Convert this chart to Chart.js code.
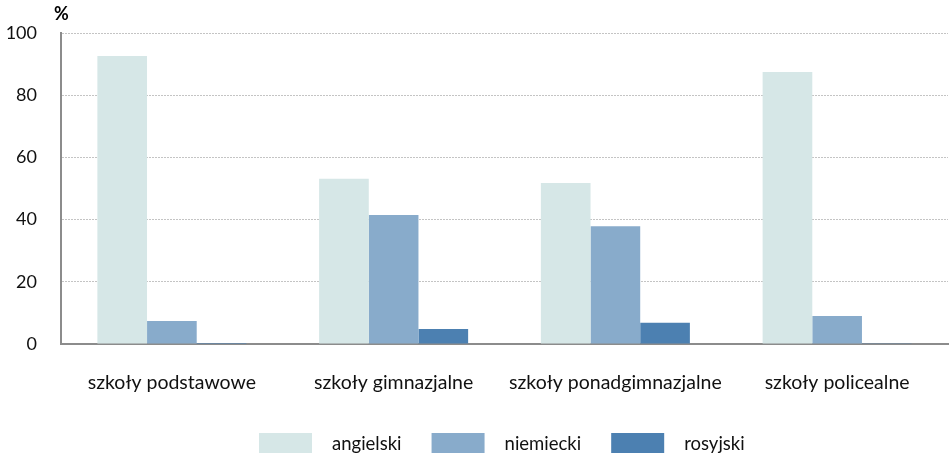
<!DOCTYPE html>
<html>
<head>
<meta charset="utf-8">
<script src="https://cdn.jsdelivr.net/npm/chart.js@4"></script>
<style>
  html, body { margin: 0; padding: 0; background: #fff; }
  #wrap { width: 951px; height: 459px; position: relative; }
</style>
</head>
<body>
<div id="wrap"><canvas id="chart"></canvas></div>
<script>
// Share of pupils learning each foreign language, by school type (%)
const categories = ['szkoły podstawowe', 'szkoły gimnazjalne', 'szkoły ponadgimnazjalne', 'szkoły policealne'];
const seriesNames = ['angielski', 'niemiecki', 'rosyjski'];
const angielski = [92.6, 53.1, 51.8, 87.5];
const niemiecki = [7.4, 41.5, 37.9, 9.0];
const rosyjski = [0.3, 4.8, 6.8, 0.1];
const yTicks = [0, 20, 40, 60, 80, 100];
const colors = ['#d6e7e7', '#88abcb', '#4c80b1'];

const FONT = 'Lato, "Open Sans", sans-serif';

// Unit label above the value axis
const unitLabel = {
  id: 'unitLabel',
  afterDraw(chart) {
    const { ctx } = chart;
    const y = chart.scales.y;
    ctx.save();
    ctx.font = 'bold 18px ' + FONT;
    ctx.fillStyle = '#000';
    ctx.textAlign = 'center';
    ctx.textBaseline = 'middle';
    ctx.fillText('%', y.right + 0.5, 14);
    ctx.restore();
  }
};

// Legend row under the category labels: swatch, gap, name, wider gap to next item
const legendRow = {
  id: 'legendRow',
  afterDraw(chart) {
    const { ctx } = chart;
    const boxW = 53, boxH = 20, textGap = 20, itemGap = 30;
    const cy = 443;
    ctx.save();
    ctx.font = '18.5px ' + FONT;
    const items = chart.data.datasets.map(ds => ({
      text: ds.label, color: ds.backgroundColor, w: ctx.measureText(ds.label).width
    }));
    const total = items.reduce((s, it) => s + boxW + textGap + it.w, 0) + itemGap * (items.length - 1);
    let x = Math.round((chart.width - total) / 2) + 26;
    ctx.textBaseline = 'middle';
    ctx.textAlign = 'left';
    items.forEach(it => {
      ctx.fillStyle = it.color;
      ctx.fillRect(x, cy - boxH / 2, boxW, boxH);
      x += boxW + textGap;
      ctx.fillStyle = '#111';
      ctx.fillText(it.text, x, cy + 1);
      x += it.w + itemGap;
    });
    ctx.restore();
  }
};

new Chart(document.getElementById('chart'), {
  type: 'bar',
  data: {
    labels: categories,
    datasets: [angielski, niemiecki, rosyjski].map((d, i) => ({
      label: seriesNames[i],
      data: d,
      backgroundColor: colors[i],
      borderWidth: 0,
      barPercentage: 1,
      categoryPercentage: 0.672
    }))
  },
  options: {
    responsive: true,
    maintainAspectRatio: false,
    animation: false,
    layout: { padding: { top: 33, right: 3, left: 0, bottom: 59 } },
    plugins: {
      tooltip: { enabled: false },
      legend: { display: false }
    },
    scales: {
      x: {
        grid: { display: false, drawTicks: false },
        border: { display: true, color: '#8c8c8c', width: 2 },
        ticks: { color: '#111', padding: 27, font: { family: FONT, size: 19.5 } },
        afterFit(scale) { scale.height = 56; }
      },
      y: {
        min: 0,
        max: 100,
        afterBuildTicks(scale) { scale.ticks = yTicks.map(v => ({ value: v })); },
        grid: {
          drawTicks: false,
          color: ctx => ctx.tick && ctx.tick.value === 0 ? 'rgba(0,0,0,0)' : '#c4c4c4',
          lineWidth: 1
        },
        border: { display: true, color: '#8c8c8c', width: 2, dash: [2, 1] },
        ticks: { color: '#111', padding: 24, font: { family: FONT, size: 18 } },
        afterFit(scale) {
          scale.width = 61;
          scale.paddingTop = 12;
          scale.paddingBottom = 12;
        }
      }
    }
  },
  plugins: [unitLabel, legendRow]
});
</script>
</body>
</html>
